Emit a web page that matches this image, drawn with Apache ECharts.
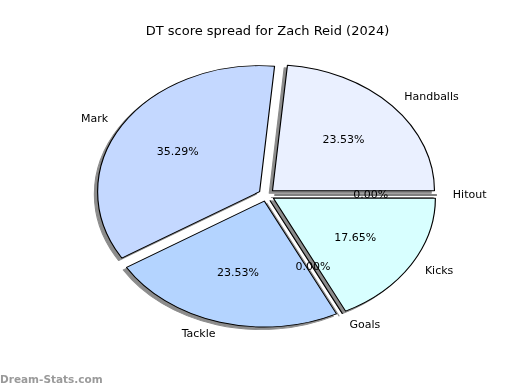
<!DOCTYPE html>
<html>
<head>
<meta charset="utf-8">
<script src="https://cdn.jsdelivr.net/npm/echarts@6/dist/echarts.min.js"></script>
<style>
html,body{margin:0;padding:0;width:520px;height:390px;overflow:hidden;background:#fff;}
#wrap{position:relative;width:520px;height:390px;overflow:hidden;}
#pie{position:absolute;left:0;top:0;width:520px;height:390px;}
#txt{position:absolute;left:0;top:0;width:520px;height:390px;}
</style>
</head>
<body>
<div id="wrap"><div id="pie"></div><div id="txt"></div></div>
<script>
// ---- data ----
const categories = ['Hitout', 'Handballs', 'Mark', 'Tackle', 'Goals', 'Kicks'];
const values = [0, 4, 6, 4, 0, 3];
const titleText = 'DT score spread for Zach Reid (2024)';
const watermark = 'Dream-Stats.com';

// ---- styles / layout ----
const colors = ['#eef4ff', '#eaf0ff', '#c4d8ff', '#b4d4ff', '#e0f0ff', '#d8ffff'];
const CX = 266.5, CY = 195;     // pie centre (px)
const RY = 126;                  // vertical semi-axis
const SX = 162 / 126;            // horizontal stretch (ellipse)
const EXPLODE = 0.05;            // explode fraction
const SHADOW = '#8c8c8c';
const FONT = 'DejaVu Sans';
const total = values.reduce((a, b) => a + b, 0);

const pieDom = document.getElementById('pie');
pieDom.style.transformOrigin = CX + 'px ' + CY + 'px';
pieDom.style.transform = 'scaleX(' + SX + ')';

const pieChart = echarts.init(pieDom, null, {renderer: 'svg'});
function wedgeSeries(center, isShadow) {
  return {
    type: 'pie',
    center: center,
    radius: RY,
    startAngle: 0,
    clockwise: false,
    selectedMode: 'multiple',
    selectedOffset: EXPLODE * RY,
    avoidLabelOverlap: false,
    silent: true,
    label: {show: false},
    labelLine: {show: false},
    emphasis: {disabled: true},
    itemStyle: isShadow ? {color: SHADOW, borderColor: SHADOW, borderWidth: 0.9}
                        : {borderColor: '#000', borderWidth: 0.9},
    select: {itemStyle: isShadow ? {color: SHADOW, borderColor: SHADOW, borderWidth: 0.9}
                                 : {borderColor: '#000', borderWidth: 0.9}},
    data: categories.map((c, i) => ({
      name: c, value: values[i], selected: true,
      itemStyle: isShadow ? undefined : {color: colors[i]}
    }))
  };
}
pieChart.setOption({
  animation: false,
  backgroundColor: '#fff',
  series: [
    wedgeSeries([CX - 3.24 / SX, CY + 2.52], true),
    wedgeSeries([CX, CY], false)
  ]
});

const txtChart = echarts.init(document.getElementById('txt'));
function outerLayout(p) {
  const r = p.labelRect;
  const mid = r.x + r.width / 2;
  const right = mid >= CX;
  const anchor = right ? r.x : r.x + r.width;
  return {
    x: CX + (anchor - CX) * SX,
    y: r.y + r.height / 2,
    align: right ? 'left' : 'right',
    verticalAlign: 'middle'
  };
}
function innerLayout(p) {
  const r = p.labelRect;
  const mx = r.x + r.width / 2;
  return {
    x: CX + (mx - CX) * SX,
    y: r.y + r.height / 2,
    align: 'center',
    verticalAlign: 'middle'
  };
}
const labelData = categories.map((c, i) => ({name: c, value: values[i]}));
txtChart.setOption({
  animation: false,
  backgroundColor: 'transparent',
  title: {
    text: titleText,
    left: CX - 4, top: 20,
    textAlign: 'center',
    textStyle: {fontFamily: FONT, fontSize: 13, fontWeight: 'normal', color: '#000'}
  },
  graphic: [{
    type: 'text', left: 0, top: 375,
    style: {text: watermark, fill: '#9a9a9a', font: 'bold 10.5px "DejaVu Sans"'}
  }],
  series: [
    {
      type: 'pie', center: [CX, CY], radius: 1.15 * RY,
      startAngle: 0, clockwise: false, silent: true,
      avoidLabelOverlap: false, selectedMode: false,
      itemStyle: {color: 'rgba(0,0,0,0)', borderWidth: 0},
      emphasis: {disabled: true},
      label: {show: true, position: 'outside', formatter: '{b}', color: '#000',
              fontFamily: FONT, fontSize: 11, distanceToLabelLine: 0},
      labelLine: {show: false, length: 0, length2: 0},
      labelLayout: outerLayout,
      data: labelData
    },
    {
      type: 'pie', center: [CX, CY], radius: 2 * 0.62 * RY,
      startAngle: 0, clockwise: false, silent: true,
      avoidLabelOverlap: false, selectedMode: false,
      itemStyle: {color: 'rgba(0,0,0,0)', borderWidth: 0},
      emphasis: {disabled: true},
      label: {show: true, position: 'inside', color: '#000',
              fontFamily: FONT, fontSize: 11,
              formatter: p => (p.value / total * 100).toFixed(2) + '%'},
      labelLine: {show: false},
      labelLayout: innerLayout,
      data: labelData
    }
  ]
});
</script>
</body>
</html>
